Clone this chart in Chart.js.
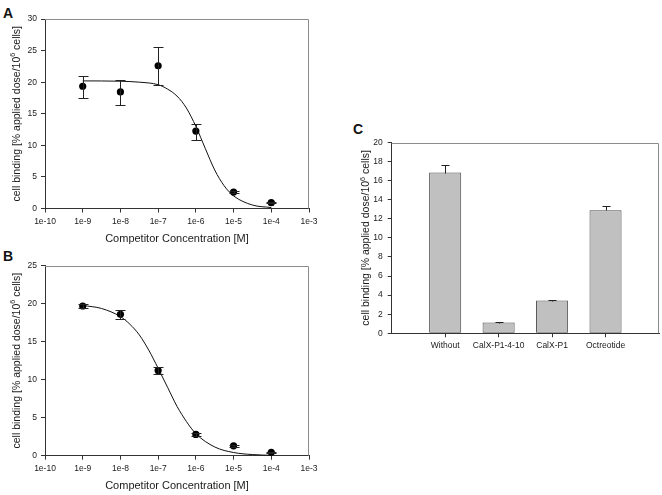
<!DOCTYPE html>
<html>
<head>
<meta charset="utf-8">
<script src="https://cdn.jsdelivr.net/npm/chart.js@4"></script>
<style>
  body { margin: 0; background: #fff; width: 662px; height: 495px; position: relative; overflow: hidden; font-family: 'Liberation Sans', Arial, sans-serif; }
  canvas { position: absolute; }
  .panel { position: absolute; font-weight: bold; font-size: 14px; color: #111; line-height: 16px; }
</style>
</head>
<body>
<div class="panel" style="left:3px;top:5px">A</div>
<div class="panel" style="left:3px;top:248px">B</div>
<div class="panel" style="left:353px;top:121px">C</div>
<canvas id="chartA" width="330" height="250" style="left:0;top:0"></canvas>
<canvas id="chartB" width="330" height="249" style="left:0;top:246px"></canvas>
<canvas id="chartC" width="322" height="250" style="left:340px;top:108px"></canvas>
<script>
// competitor concentrations [M]
const concentrations = [1e-9, 1e-8, 1e-7, 1e-6, 1e-5, 1e-4];
const xTicks = [1e-10, 1e-9, 1e-8, 1e-7, 1e-6, 1e-5, 1e-4, 1e-3];

// panel A - measured points, error bar ends and fitted curve
const bindingA = [19.35, 18.45, 22.6, 12.25, 2.6, 0.92];
const bindingAHigh = [21.0, 20.35, 25.5, 13.45, 2.8, 1.05];
const bindingALow = [17.55, 16.45, 19.6, 10.8, 2.4, 0.8];
const fitAX = [1e-9, 3.16e-9, 1e-8, 3.16e-8, 1e-7, 1.78e-7, 3.16e-7, 5.62e-7, 1e-6, 1.78e-6, 3.16e-6, 5.62e-6, 1e-5, 3.16e-5, 1e-4];
const fitAY = [20.2, 20.19, 20.15, 20.0, 19.6, 18.9, 17.8, 15.9, 13.0, 9.5, 6.1, 3.6, 2.0, 0.55, 0.15];

// panel B
const bindingB = [19.7, 18.6, 11.2, 2.8, 1.3, 0.45];
const bindingBHigh = [20.0, 19.15, 11.65, 2.95, 1.45, 0.55];
const bindingBLow = [19.4, 18.05, 10.75, 2.65, 1.15, 0.35];
const fitBX = [1e-9, 3.16e-9, 1e-8, 1.78e-8, 3.16e-8, 5.62e-8, 1e-7, 1.78e-7, 3.16e-7, 5.62e-7, 1e-6, 3.16e-6, 1e-5, 3.16e-5, 1e-4];
const fitBY = [19.77, 19.37, 18.3, 17.3, 15.9, 13.9, 11.5, 9.0, 6.5, 4.5, 2.9, 1.15, 0.42, 0.15, 0.05];

// panel C - blocking study
const peptides = ['Without', 'CalX-P1-4-10', 'CalX-P1', 'Octreotide'];
const bindingC = [16.85, 1.12, 3.43, 12.9];
const bindingCHigh = [17.65, 1.18, 3.47, 13.3];

const FONT = "'Liberation Sans', Arial, sans-serif";
const AXIS = '#333';
const TEXT = '#1a1a1a';

// error bars drawn with the chart's own scales
const errorBarPlugin = {
  id: 'errorBars',
  afterDatasetsDraw(chart, args, opts) {
    const ctx = chart.ctx;
    const yScale = chart.scales.y;
    chart.data.datasets.forEach((ds, i) => {
      if (!ds.errHigh) return;
      const meta = chart.getDatasetMeta(i);
      ctx.save();
      ctx.strokeStyle = '#222';
      ctx.lineWidth = 1;
      meta.data.forEach((el, j) => {
        const hi = ds.errHigh[j];
        if (hi == null) return;
        const val = typeof ds.data[j] === 'object' ? ds.data[j].y : ds.data[j];
        const lo = ds.errLow ? ds.errLow[j] : val;
        const x = Math.round(el.x) + 0.5;
        const yHi = Math.round(yScale.getPixelForValue(hi)) + 0.5;
        const yLo = Math.round(yScale.getPixelForValue(lo)) + 0.5;
        const w = opts.cap;
        ctx.beginPath();
        ctx.moveTo(x, yHi); ctx.lineTo(x, yLo);
        ctx.moveTo(x - w, yHi); ctx.lineTo(x + w, yHi);
        if (ds.errLow) { ctx.moveTo(x - w, yLo); ctx.lineTo(x + w, yLo); }
        ctx.stroke();
      });
      ctx.restore();
    });
  }
};

// grey top and right frame lines
const framePlugin = {
  id: 'frame',
  beforeDatasetsDraw(chart) {
    const { ctx, chartArea: a } = chart;
    ctx.save();
    ctx.strokeStyle = '#8c8c8c';
    ctx.lineWidth = 1;
    const t = Math.round(a.top) + 0.5, r = Math.round(a.right) - 0.5;
    ctx.beginPath();
    ctx.moveTo(a.left, t); ctx.lineTo(r, t); ctx.lineTo(r, a.bottom);
    ctx.stroke();
    ctx.restore();
  }
};

// rotated y title with superscript 6
const yTitlePlugin = {
  id: 'yTitle',
  afterDraw(chart, args, opts) {
    const { ctx, chartArea: a } = chart;
    const main = 'cell binding [% applied dose/10', sup = '6', rest = ' cells]';
    const f = opts.size + 'px ' + FONT;
    const fs = (opts.size * 0.68) + 'px ' + FONT;
    ctx.save();
    ctx.font = f;
    const w1 = ctx.measureText(main).width, w3 = ctx.measureText(rest).width;
    ctx.font = fs;
    const w2 = ctx.measureText(sup).width;
    ctx.translate(a.left - opts.gap, (a.top + a.bottom) / 2);
    ctx.rotate(-Math.PI / 2);
    ctx.fillStyle = TEXT;
    ctx.textAlign = 'left';
    ctx.textBaseline = 'alphabetic';
    let x = -(w1 + w2 + w3) / 2;
    ctx.font = f; ctx.fillText(main, x, 0); x += w1;
    ctx.font = fs; ctx.fillText(sup, x, -opts.size * 0.42); x += w2;
    ctx.font = f; ctx.fillText(rest, x, 0);
    ctx.restore();
  }
};

function axisGrid() {
  return { display: true, drawOnChartArea: false, drawTicks: true, tickLength: 4, color: AXIS };
}

function curveChart(id, points, high, low, fitX, fitY, yMax, pad, hx, titleBottom) {
  new Chart(document.getElementById(id), {
    type: 'scatter',
    data: {
      datasets: [
        {
          data: concentrations.map((c, i) => ({ x: c, y: points[i] })),
          errHigh: high,
          errLow: low,
          pointRadius: 3.6,
          pointBackgroundColor: '#000',
          pointBorderColor: '#000',
          pointBorderWidth: 0,
          showLine: false
        },
        {
          data: fitX.map((c, i) => ({ x: c, y: fitY[i] })),
          showLine: true,
          pointRadius: 0,
          borderColor: '#111',
          borderWidth: 1,
          cubicInterpolationMode: 'monotone'
        }
      ]
    },
    options: {
      responsive: false,
      animation: false,
      events: [],
      layout: { padding: { left: 0, top: pad, right: 21, bottom: 0 } },
      plugins: {
        legend: { display: false },
        tooltip: { enabled: false },
        errorBars: { cap: 5 },
        yTitle: { size: 10.5, gap: 25.5 }
      },
      scales: {
        x: {
          type: 'logarithmic',
          min: 1e-10,
          max: 1e-3,
          afterBuildTicks: s => { s.ticks = xTicks.map(v => ({ value: v })); },
          afterFit: s => { s.height = hx; },
          ticks: {
            callback: v => Number(v).toExponential(),
            font: { family: FONT, size: 8.5 },
            color: TEXT,
            padding: 4,
            autoSkip: false,
            maxRotation: 0
          },
          grid: axisGrid(),
          border: { display: true, color: AXIS, width: 1 },
          title: {
            display: true,
            text: 'Competitor Concentration [M]',
            font: { family: FONT, size: 11 },
            color: TEXT,
            padding: { top: 0, bottom: titleBottom }
          }
        },
        y: {
          min: 0,
          max: yMax,
          afterFit: s => { s.width = 45; },
          ticks: { stepSize: 5, font: { family: FONT, size: 8.5 }, color: TEXT, padding: 4 },
          grid: axisGrid(),
          border: { display: true, color: AXIS, width: 1 }
        }
      }
    },
    plugins: [framePlugin, errorBarPlugin, yTitlePlugin]
  });
}

curveChart('chartA', bindingA, bindingAHigh, bindingALow, fitAX, fitAY, 30, 19, 41.5, 4.4);
curveChart('chartB', bindingB, bindingBHigh, bindingBLow, fitBX, fitBY, 25, 19.7, 39.3, 2.7);

// panel C bar chart; empty slots either side give the outer margins
new Chart(document.getElementById('chartC'), {
  type: 'bar',
  data: {
    labels: ['', ...peptides, ''],
    datasets: [{
      data: [null, ...bindingC, null],
      errHigh: [null, ...bindingCHigh, null],
      backgroundColor: '#c0c0c0',
      borderColor: '#4d4d4d',
      borderWidth: 1,
      borderSkipped: false,
      categoryPercentage: 1,
      barPercentage: 0.6
    }]
  },
  options: {
    responsive: false,
    animation: false,
    events: [],
    layout: { padding: { left: 0, top: 34.5, right: 1.3, bottom: 0 } },
    plugins: {
      legend: { display: false },
      tooltip: { enabled: false },
      errorBars: { cap: 4 },
      yTitle: { size: 10.5, gap: 22.7 }
    },
    scales: {
      x: {
        offset: false,
        afterFit: s => { s.height = 24.7; },
        ticks: { font: { family: FONT, size: 8.5 }, color: TEXT, padding: 3, autoSkip: false, maxRotation: 0 },
        grid: {
          display: true, drawOnChartArea: false, drawTicks: true, tickLength: 4, offset: false,
          color: c => (c.tick && c.tick.label ? AXIS : 'rgba(0,0,0,0)')
        },
        border: { display: true, color: AXIS, width: 1 }
      },
      y: {
        min: 0,
        max: 20,
        afterFit: s => { s.width = 51.7; },
        ticks: { stepSize: 2, font: { family: FONT, size: 8.5 }, color: TEXT, padding: 5 },
        grid: axisGrid(),
        border: { display: true, color: AXIS, width: 1 }
      }
    }
  },
  plugins: [framePlugin, errorBarPlugin, yTitlePlugin]
});
</script>
</body>
</html>
